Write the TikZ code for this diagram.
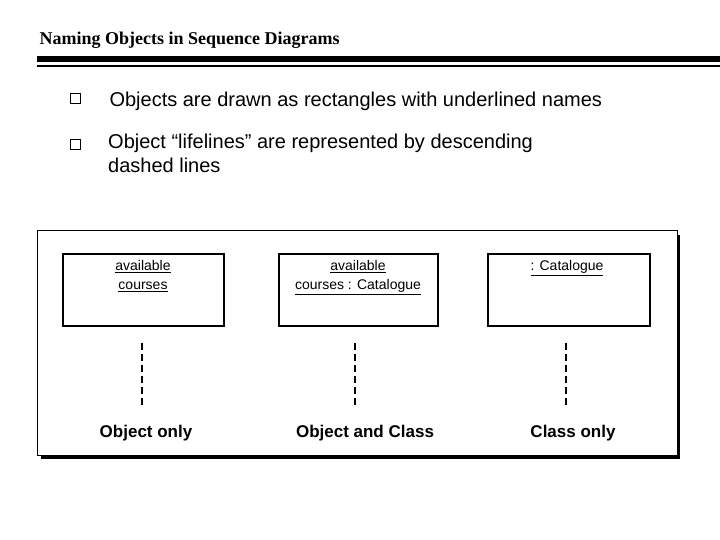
\documentclass[tikz,border=0pt]{standalone}
\usepackage{fontspec}
\setmainfont{Liberation Sans}
\newfontfamily\serifb{Liberation Serif}
\newcommand\myul[1]{\underline{#1}}
\begin{document}
\begin{tikzpicture}[x=1pt,y=-1pt,
  obj/.style={draw,line width=1.5pt,inner sep=0pt},
  lbl/.style={font=\fontsize{14}{19}\selectfont,align=center,anchor=north},
  captxt/.style={font=\fontsize{17}{20}\selectfont\bfseries},
  life/.style={line width=1.5pt,dash pattern=on 7pt off 4pt},
  bul/.style={draw,line width=1pt,minimum size=10pt,inner sep=0pt}]
\useasboundingbox (0,0) rectangle (720,540);
\node[anchor=base west,font=\serifb\fontsize{18}{20}\selectfont\bfseries] (title) at (36,45) {Naming Objects in Sequence Diagrams};
\fill (37,56) rectangle (720,62);
\fill (37,65) rectangle (720,67);
\node[bul] (b1) at (75,99) {};
\node[anchor=base west,font=\fontsize{20}{24}\selectfont] (t1) at (106,107) {Objects are drawn as rectangles with underlined names};
\node[bul] (b2) at (75,145) {};
\node[anchor=north west,align=left,font=\fontsize{20}{24}\selectfont,inner sep=0pt] (t2) at (108,134) {Object “lifelines” are represented by descending\\dashed lines};
\fill (41,235) rectangle (680,459);
\draw[fill=white,line width=1pt] (37,231) rectangle (677,455);
\draw[obj] (63,254) rectangle (224,326);
\draw[obj] (279,254) rectangle (438,326);
\draw[obj] (488,254) rectangle (650,326);
\node[lbl] (l1) at (143,257) {\myul{available}\\\myul{courses}};
\node[lbl] (l2) at (358,257) {\myul{available}\\\myul{courses : Catalogue}};
\node[lbl] (l3) at (567,257) {\myul{: Catalogue}};
\coordinate (a1) at (142,343); \coordinate (a2) at (142,408);
\coordinate (c1) at (355,343); \coordinate (c2) at (355,408);
\coordinate (d1) at (566,343); \coordinate (d2) at (566,408);
\draw[life] (a1) -- (a2);
\draw[life] (c1) -- (c2);
\draw[life] (d1) -- (d2);
\node[captxt] (k1) at (146,433) {Object only};
\node[captxt] (k2) at (365,433) {Object and Class};
\node[captxt] (k3) at (573,433) {Class only};
\end{tikzpicture}
\end{document}
